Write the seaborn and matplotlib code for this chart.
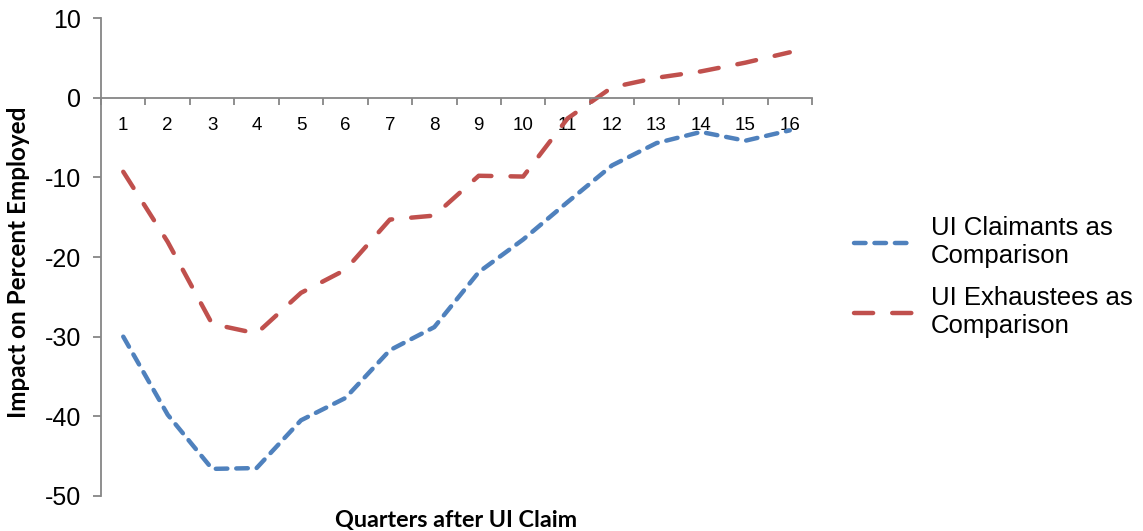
import pandas as pd
import matplotlib.pyplot as plt
import seaborn as sns

# Values
quarters = list(range(1, 17))
claimants = [-30.0, -39.8, -46.6, -46.5, -40.5, -37.7, -31.7, -28.8,
             -21.9, -17.8, -13.1, -8.5, -5.7, -4.3, -5.4, -4.1]
exhaustees = [-9.3, -18.1, -28.4, -29.6, -24.5, -21.6, -15.3, -14.8,
              -9.8, -9.9, -2.6, 1.3, 2.5, 3.3, 4.4, 5.7]
series_names = ["UI Claimants as\nComparison", "UI Exhaustees as\nComparison"]

df = pd.concat([
    pd.DataFrame({"quarter": quarters, "impact": claimants, "series": series_names[0]}),
    pd.DataFrame({"quarter": quarters, "impact": exhaustees, "series": series_names[1]}),
])

sns.set_style("white")
plt.rcParams["font.family"] = ["Liberation Sans", "DejaVu Sans"]
plt.rcParams["axes.unicode_minus"] = False

fig = plt.figure(figsize=(11.43, 5.31), dpi=100)
ax = fig.add_axes([0.0884, 0.066, 0.622, 0.900])

palette = {series_names[0]: "#4F81BD", series_names[1]: "#C0504D"}
dashes = {series_names[0]: (2.6, 2.0), series_names[1]: (4.3, 4.3)}
sns.lineplot(data=df, x="quarter", y="impact", hue="series", style="series",
             palette=palette, dashes=dashes, linewidth=3.2, ax=ax)
for line in ax.get_lines():
    line.set_dash_capstyle("round")

ax.set_xlim(0.5, 16.5)
ax.set_ylim(-50, 10)
ax.set_yticks(range(-50, 11, 10))
ax.set_xticks(quarters)
ax.set_xticks([q + 0.5 for q in range(0, 17)], minor=True)

for side in ["top", "right"]:
    ax.spines[side].set_visible(False)
ax.spines["bottom"].set_position(("data", 0))
for side in ["left", "bottom"]:
    ax.spines[side].set_color("#868686")
    ax.spines[side].set_linewidth(1.3)

ax.tick_params(axis="y", which="major", direction="out", length=6, width=1.3,
               color="#868686", labelsize=18, labelcolor="black", pad=8.5, left=True)
ax.tick_params(axis="x", which="major", length=0, labelsize=13.5, labelcolor="black",
               pad=14, bottom=True)
ax.tick_params(axis="x", which="minor", direction="out", length=5, width=1.3,
               color="#868686", bottom=True)

ax.set_xlabel("Quarters after UI Claim", fontsize=16.8, fontweight="bold",
              color="black", family=["Lato", "DejaVu Sans"])
ax.xaxis.set_label_coords(0.5, -0.030)
ax.set_ylabel("Impact on Percent Employed", fontsize=17.5, fontweight="bold",
              color="black", family=["Lato", "DejaVu Sans"])
ax.yaxis.set_label_coords(-0.1, 0.49)

handles, labels = ax.get_legend_handles_labels()
ax.get_legend().remove()
leg = fig.legend(handles, labels, loc="center left", bbox_to_anchor=(0.7265, 0.478),
                 frameon=False, fontsize=18.5, handlelength=2.4, labelspacing=0.7,
                 handletextpad=0.6)
for t in leg.get_texts():
    t.set_color("black")

plt.savefig("out.png", dpi=100)
plt.close()
